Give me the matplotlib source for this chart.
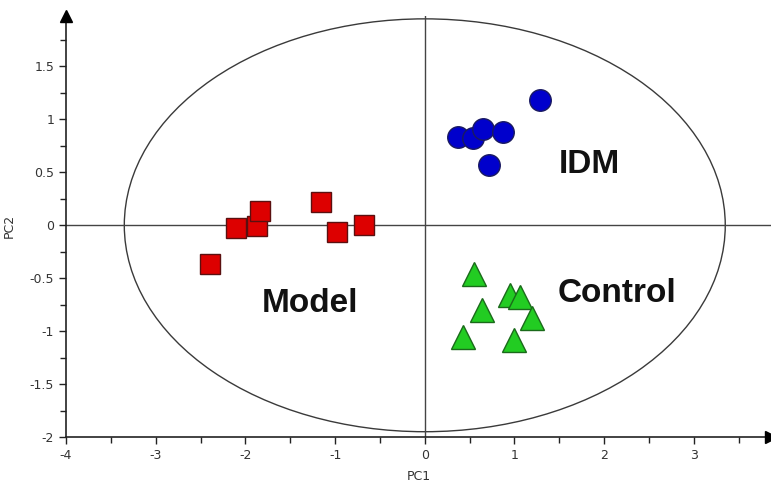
import matplotlib.pyplot as plt
from matplotlib.patches import Ellipse
from matplotlib.ticker import MultipleLocator

# PCA scores
model_pc1 = [-2.39, -2.11, -1.87, -1.84, -1.16, -0.98, -0.68]
model_pc2 = [-0.37, -0.03, -0.01, 0.135, 0.22, -0.06, 0.0]

idm_pc1 = [0.37, 0.54, 0.65, 0.87, 0.72, 1.29]
idm_pc2 = [0.83, 0.82, 0.91, 0.88, 0.565, 1.18]

control_pc1 = [0.55, 0.95, 1.06, 0.64, 1.20, 0.43, 0.99]
control_pc2 = [-0.46, -0.66, -0.68, -0.80, -0.88, -1.06, -1.08]

group_labels = ["IDM", "Model", "Control"]
label_pos = [(1.84, 0.57), (-1.28, -0.74), (2.14, -0.64)]

ellipse_w, ellipse_h = 6.7, 3.9

fig = plt.figure(figsize=(7.71, 4.84), dpi=100)
ax = fig.add_axes([0.0856, 0.0971, 0.9144, 0.8705])
ax.set_xlim(-4, 3.86)
ax.set_ylim(-2, 1.98)

ax.add_patch(Ellipse((0, 0), ellipse_w, ellipse_h, fill=False,
                     edgecolor="#3a3a3a", lw=1.0, zorder=1))
ax.axhline(0, color="#444444", lw=1.0, zorder=1)
ax.axvline(0, color="#444444", lw=1.0, zorder=1)

ax.plot(model_pc1, model_pc2, "s", ms=15, mfc="#dd0000", mec="#5a1010",
        mew=1.0, ls="none", zorder=3)
ax.plot(idm_pc1, idm_pc2, "o", ms=15.5, mfc="#0000cc", mec="#1a1a60",
        mew=1.0, ls="none", zorder=3)
ax.plot(control_pc1, control_pc2, "^", ms=17, mfc="#22cc22", mec="#1a6a1a",
        mew=1.0, ls="none", zorder=3)

for txt, (x, y) in zip(group_labels, label_pos):
    ax.text(x, y, txt, fontsize=24, fontweight="bold", family="Liberation Sans",
            ha="center", va="center", color="#111111")

for s in ["top", "right"]:
    ax.spines[s].set_visible(False)
for s in ["left", "bottom"]:
    ax.spines[s].set_color("#222222")
    ax.spines[s].set_linewidth(1.2)

# arrow heads at the ends of the axes
ax.plot([-4], [1.98], marker="^", ms=9, color="black", clip_on=False, zorder=5)
ax.plot([3.86], [-2], marker=">", ms=9, color="black", clip_on=False, zorder=5)

ax.xaxis.set_major_locator(MultipleLocator(1))
ax.xaxis.set_minor_locator(MultipleLocator(0.5))
ax.yaxis.set_major_locator(MultipleLocator(0.5))
ax.yaxis.set_minor_locator(MultipleLocator(0.25))
ax.set_xticks([-4, -3, -2, -1, 0, 1, 2, 3])
ax.set_yticks([-2, -1.5, -1, -0.5, 0, 0.5, 1, 1.5])
ax.set_xticklabels(["-4", "-3", "-2", "-1", "0", "1", "2", "3"])
ax.set_yticklabels(["-2", "-1.5", "-1", "-0.5", "0", "0.5", "1", "1.5"])
ax.tick_params(which="major", length=5, width=1, color="#222222",
               labelsize=9, labelcolor="#333333")
ax.tick_params(which="minor", length=4, width=1, color="#222222")

ax.set_xlabel("PC1", fontsize=9, color="#333333", labelpad=6)
ax.set_ylabel("PC2", fontsize=9, color="#333333", labelpad=10)

fig.savefig("out.png", dpi=100)
